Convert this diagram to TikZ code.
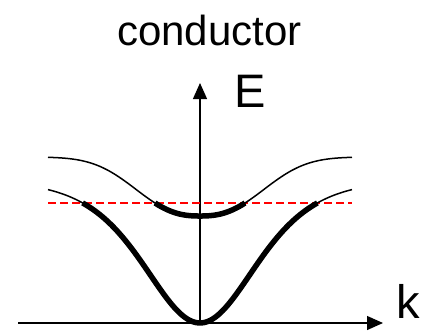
\documentclass[tikz,border=0pt]{standalone}
\usepackage{fontspec}
\setmainfont{Liberation Sans}
\usetikzlibrary{arrows.meta}
\begin{document}
\begin{tikzpicture}[x=1pt,y=-1pt,
  axis/.style={line width=1.3pt,-{Triangle[width=14pt,length=16pt]}},
  band/.style={line width=1.5pt},
  occupied/.style={line width=5.5pt},
  fermi/.style={red,line width=1.5pt,dash pattern=on 8pt off 4pt},
  lbl/.style={inner sep=0pt,font=\fontsize{47}{50}\selectfont}]
\useasboundingbox (0,0) rectangle (421,330);
\coordinate (O) at (200,323);
\coordinate (kstart) at (18,323);
\coordinate (kend) at (383,323);
\coordinate (Etop) at (200,83);
\coordinate (fL) at (48,203);
\coordinate (fR) at (352,203);
% axes
\draw[axis] (kstart) -- (kend);
\draw[axis] (O) -- (Etop);
% Fermi level
\draw[fermi] (fL) -- (fR);
% upper band
\draw[band] plot[domain=-152:152,samples=120]
  ({200+\x},{157+59*exp(-((abs(\x)+0.01)/78.5)^2.5)});
\draw[occupied] plot[domain=-45:45,samples=40]
  ({200+\x},{157+59*exp(-((abs(\x)+0.01)/78.5)^2.5)});
% lower band
\draw[band] plot[domain=-152:152,samples=120]
  ({200+\x},{180+143/(cosh(\x/75)^2)});
\draw[occupied] plot[domain=-117.4:117.4,samples=100]
  ({200+\x},{180+143/(cosh(\x/75)^2)});
% labels
\node[inner sep=0pt,anchor=base,font=\fontsize{42}{46}\selectfont] (title) at (209.5,45) {conductor};
\node[lbl,anchor=base west] (Elabel) at (234,107) {E};
\node[lbl,anchor=base west] (klabel) at (396,318) {k};
\end{tikzpicture}
\end{document}
